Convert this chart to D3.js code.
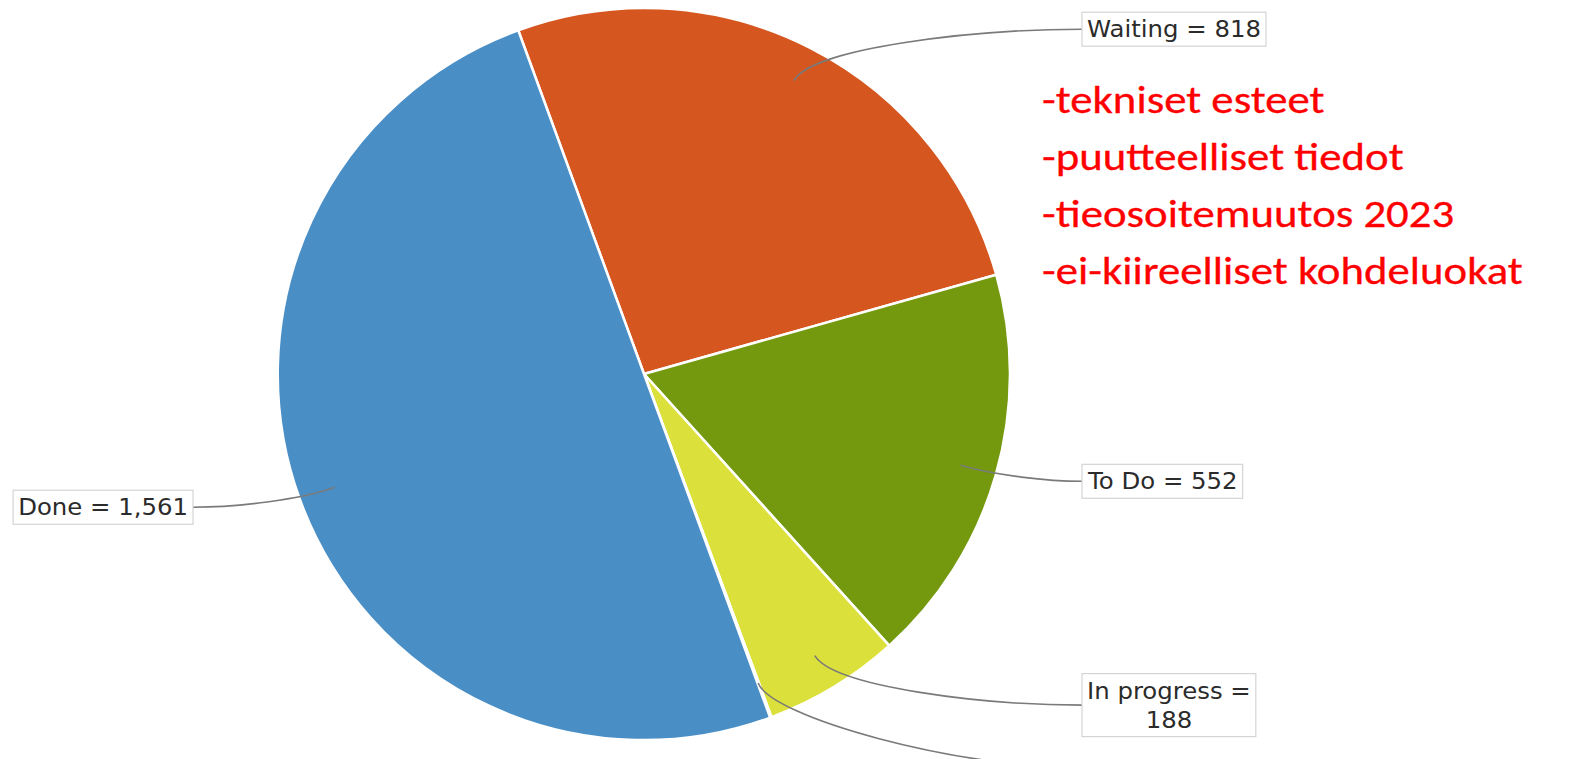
<!DOCTYPE html>
<html><head><meta charset="utf-8">
<script src="https://cdn.jsdelivr.net/npm/d3@7"></script>
<style>body{margin:0;background:#fff}svg{display:block}</style>
</head><body>
<svg id="chart" width="1575" height="759"></svg>
<script>
// ---- data ----
const categories = ["Waiting", "To Do", "In progress", "Other", "Done"];
const values = [818, 552, 188, 2, 1561];
const valueLabels = ["818", "552", "188", "", "1,561"];
const colors = ["#d5561f", "#74990f", "#dce03b", "#c9cc3a", "#4a8ec6"];
const notes = ["-tekniset esteet", "-puutteelliset tiedot", "-tieosoitemuutos 2023", "-ei-kiireelliset kohdeluokat"];

// ---- layout ----
const cx = 644, cy = 374, r = 366;
const startDeg = -20.1;
const svg = d3.select("#chart");

const data = categories.map((c, i) => ({name: c, value: values[i], label: valueLabels[i], color: colors[i]}));
const a0 = startDeg * Math.PI / 180;
const pie = d3.pie().sort(null).value(d => d.value).startAngle(a0).endAngle(a0 + 2 * Math.PI);
const arcs = pie(data);
const arc = d3.arc().innerRadius(0).outerRadius(r);

const g = svg.append("g").attr("transform", `translate(${cx},${cy})`);
g.selectAll("path.slice").data(arcs).join("path")
  .attr("class", "slice")
  .attr("d", arc)
  .attr("fill", d => d.data.color)
  .attr("stroke", "#fff")
  .attr("stroke-width", 2.5)
  .attr("stroke-linejoin", "round");

const pt = (ang, rad) => [cx + rad * Math.sin(ang), cy - rad * Math.cos(ang)];

// labels
const fontSize = 23, sx = 1.06;
const lblLayer = svg.append("g");
const leftEdge = 193, rightEdge = 1082;
const records = arcs.map(a => {
  const mid = (a.startAngle + a.endAngle) / 2;
  return {a, mid, right: Math.sin(mid) >= 0, y: cy - 1.058 * r * Math.cos(mid)};
});

function makeLines(d) {
  if (!d.label) return [];
  const full = d.name + " = " + d.label;
  const t = lblLayer.append("text").style("font-family", "DejaVu Sans").style("font-size", fontSize + "px").text(full);
  const w = t.node().getComputedTextLength() * sx;
  t.remove();
  return w > 190 ? [d.name + " =", d.label] : [full];
}
records.forEach(rec => {
  rec.lines = makeLines(rec.a.data);
  rec.h = rec.lines.length ? rec.lines.length * 30 + 6 : 38;
});
// avoid overlaps on right side (push down)
const rightRecs = records.filter(d => d.right).sort((p, q) => p.y - q.y);
for (let i = 1; i < rightRecs.length; i++) {
  const prev = rightRecs[i - 1], cur = rightRecs[i];
  const minY = prev.y + prev.h / 2 + 11 + cur.h / 2;
  if (cur.y < minY) cur.y = minY;
}

records.forEach(rec => {
  const p0 = pt(rec.mid, 0.9 * r);
  const p1 = pt(rec.mid, 1.0 * r);
  const tx = rec.right ? rightEdge : leftEdge;
  const ty = rec.y;
  const p2 = [tx - 0.4 * (tx - p1[0]), ty];
  const path = d3.path();
  path.moveTo(p0[0], p0[1]);
  path.bezierCurveTo(p1[0], p1[1], p2[0], p2[1], tx, ty);
  lblLayer.append("path").attr("d", path.toString())
    .attr("fill", "none").attr("stroke", "#7a7a7a").attr("stroke-width", 1.6);

  if (!rec.lines.length) return;
  const grp = lblLayer.append("g");
  const txt = grp.append("text")
    .style("font-family", "DejaVu Sans").style("font-size", fontSize + "px")
    .attr("fill", "#2b2b2b").attr("text-anchor", "middle");
  rec.lines.forEach((ln, i) => txt.append("tspan").attr("x", 0).attr("dy", i === 0 ? 0 : 29).text(ln));
  const bb = txt.node().getBBox();
  const padX = 5, padY = 4;
  const bw = bb.width * sx + 2 * padX, bh = bb.height + 2 * padY;
  const bx = rec.right ? tx : tx - bw;
  const by = ty - bh / 2;
  grp.insert("rect", "text")
    .attr("x", bx).attr("y", by).attr("width", bw).attr("height", bh)
    .attr("fill", "#fff").attr("stroke", "#d4d4d4").attr("stroke-width", 1.2);
  txt.attr("transform", `translate(${bx + bw / 2 - sx * (bb.x + bb.width / 2)},${by + padY - bb.y}) scale(${sx},1)`);
});

// red notes
const noteX = 1042, noteY0 = 113, noteStep = 57, noteWidth = 481, noteSize = 39;
const notesG = svg.append("g");
const nt = notesG.selectAll("text").data(notes).join("text")
  .attr("x", 0).attr("y", (d, i) => noteY0 + i * noteStep)
  .attr("fill", "#ff0000")
  .attr("stroke", "#ff0000").attr("stroke-width", 0.3)
  .style("font-family", "Carlito, Lato, 'Open Sans', sans-serif")
  .style("font-size", noteSize + "px")
  .text(d => d);
const maxW = d3.max(nt.nodes(), n => n.getComputedTextLength());
notesG.attr("transform", `translate(${noteX},0) scale(${noteWidth / maxW},1)`);
</script>
</body></html>
